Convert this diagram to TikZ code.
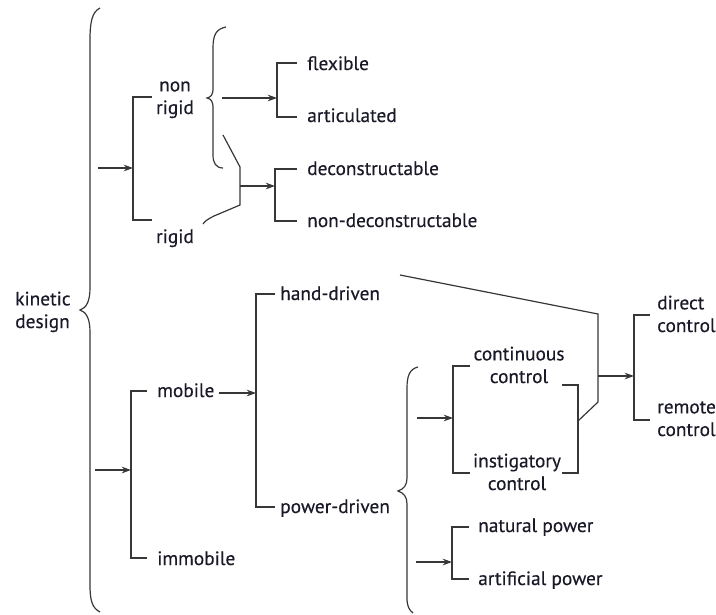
\documentclass[tikz,border=0pt]{standalone}
\usepackage{fontspec}
\newfontfamily\lblfont[FakeBold=0.3]{PT Sans}
\usetikzlibrary{arrows.meta}
\definecolor{txt}{RGB}{25,25,40}
\definecolor{lnc}{RGB}{55,55,55}
\begin{document}
\begin{tikzpicture}[x=0.75pt,y=-0.75pt,
  lbl/.style={text=txt,font=\lblfont\fontsize{14.5}{17}\selectfont,inner sep=0pt},
  ln/.style={draw=lnc,line width=0.9pt},
  arr/.style={ln,-{Stealth[length=7pt,width=5pt]}}]
\useasboundingbox (0,0) rectangle (716,614);

% ---------- labels ----------
\node[lbl,anchor=base west,align=left] (kin) at (15,328) {kinetic\\design};
\node[lbl,anchor=base,align=center] (nonrigid) at (175,114) {non\\rigid};
\node[lbl,anchor=base] (rigid) at (175,243) {rigid};
\node[lbl,anchor=base west] (flex) at (307,70) {flexible};
\node[lbl,anchor=base west] (artic) at (307,122) {articulated};
\node[lbl,anchor=base west] (decon) at (307,175) {deconstructable};
\node[lbl,anchor=base west] (ndecon) at (307,227) {non-deconstructable};
\node[lbl,anchor=base west] (mobile) at (157,397) {mobile};
\node[lbl,anchor=base west] (immobile) at (157,565) {immobile};
\node[lbl,anchor=base west] (hand) at (280,300) {hand-driven};
\node[lbl,anchor=base west] (power) at (280,513) {power-driven};
\node[lbl,anchor=base,align=center] (cont) at (519,383) {continuous\\control};
\node[lbl,anchor=base,align=center] (instig) at (517,490) {instigatory\\control};
\node[lbl,anchor=base west,align=left] (direct) at (657,332) {direct\\control};
\node[lbl,anchor=base west,align=left] (remote) at (657,436) {remote\\control};
\node[lbl,anchor=base west] (natural) at (478,532) {natural power};
\node[lbl,anchor=base west] (artif) at (478,585) {artificial power};

% ---------- braces ----------
\draw[ln] (100,8) .. controls (92,12) and (90,22) .. (90,40) -- (90,288)
  .. controls (90,302) and (86,308) .. (80,310)
  .. controls (86,312) and (90,318) .. (90,332) -- (90,585)
  .. controls (90,600) and (92,608) .. (100,612);
\draw[ln] (226,27) .. controls (216,29) and (213,35) .. (213,48) -- (213,88)
  .. controls (213,95) and (211,97) .. (207,98)
  .. controls (211,99) and (213,101) .. (213,108) -- (213,155)
  .. controls (213,163) and (216,168) .. (223,168);
\coordinate (rmtip) at (240,186);
\draw[ln] (223,135) -- (240,167) -- (240,205) -- (214,216)
  .. controls (208,219) and (205,221) .. (203,224);
\draw[ln] (418,367) .. controls (410,369) and (407,375) .. (407,388) -- (407,478)
  .. controls (407,485) and (404,489) .. (398,491)
  .. controls (404,493) and (407,497) .. (407,504) -- (407,598)
  .. controls (407,606) and (409,610) .. (413,613);

% ---------- brackets ----------
\draw[ln] (152,97) -- (133,97) -- (133,220) -- (152,220);
\draw[ln] (297,63) -- (277,63) -- (277,117) -- (297,117);
\draw[ln] (297,169) -- (275,169) -- (275,221) -- (297,221);
\draw[ln] (147,391) -- (131,391) -- (131,558) -- (147,558);
\draw[ln] (275,294) -- (256,294) -- (256,507) -- (275,507);
\draw[ln] (470,366) -- (453,366) -- (453,473) -- (470,473);
\draw[ln] (562,385) -- (578,385) -- (578,473) -- (562,473);
\draw[ln] (469,527) -- (452,527) -- (452,579) -- (469,579);
\draw[ln] (650,315) -- (634,315) -- (634,420) -- (650,420);
\draw[ln] (400,275) -- (598,314) -- (598,402) -- (578,421);

% ---------- arrows ----------
\coordinate (a1s) at (98,168);  \coordinate (a1e) at (133,168);
\coordinate (a2s) at (222,98);  \coordinate (a2e) at (277,98);
\coordinate (a3e) at (275,186);
\coordinate (a4s) at (95,470);  \coordinate (a4e) at (131,470);
\coordinate (a5s) at (219,393); \coordinate (a5e) at (256,393);
\coordinate (a6s) at (417,418); \coordinate (a6e) at (453,418);
\coordinate (a7s) at (416,562); \coordinate (a7e) at (452,562);
\coordinate (a8s) at (598,376); \coordinate (a8e) at (634,376);
\draw[arr] (a1s) -- (a1e);
\draw[arr] (a2s) -- (a2e);
\draw[arr] (rmtip) -- (a3e);
\draw[arr] (a4s) -- (a4e);
\draw[arr] (a5s) -- (a5e);
\draw[arr] (a6s) -- (a6e);
\draw[arr] (a7s) -- (a7e);
\draw[arr] (a8s) -- (a8e);
\end{tikzpicture}
\end{document}
